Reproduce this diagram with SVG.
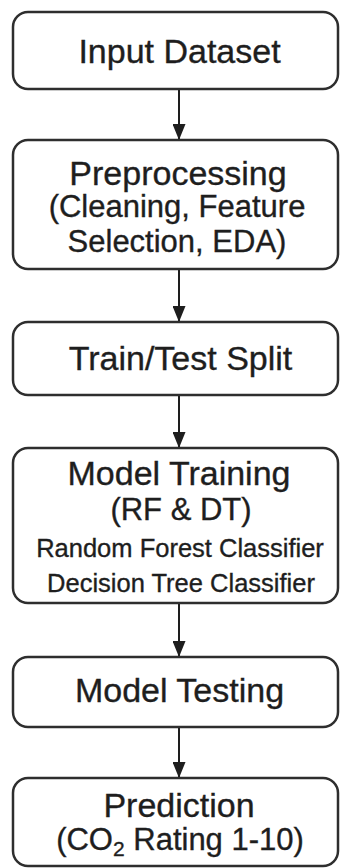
<svg xmlns="http://www.w3.org/2000/svg" width="340" height="868" viewBox="0 0 340 868">
  <style>
    .box { fill: #ffffff; stroke: #2e2e2e; stroke-width: 2.5; }
    .t { font-family: "Liberation Sans", Arial, Helvetica, sans-serif; fill: #1e1e1e; stroke: #1e1e1e; stroke-width: 0.35; text-anchor: middle; }
    .big { font-size: 34px; }
    .mid { font-size: 31px; }
    .small { font-size: 25.5px; }
    .link { stroke: #1e1e1e; stroke-width: 2; fill: none; marker-end: url(#arrow); }
  </style>
  <defs>
    <!-- solid triangular arrowhead, tip placed on the end of each connector -->
    <marker id="arrow" markerUnits="userSpaceOnUse" markerWidth="16" markerHeight="13" refX="16" refY="6.5" orient="auto" viewBox="0 0 16 13">
      <path d="M0,0 L16,6.5 L0,13 Z" fill="#1e1e1e"/>
    </marker>
  </defs>

  <rect width="340" height="868" fill="#ffffff"/>

  <g id="connectors">
    <line class="link" x1="179" y1="89" x2="179" y2="140"/>
    <line class="link" x1="179" y1="269" x2="179" y2="322"/>
    <line class="link" x1="179" y1="395" x2="179" y2="448"/>
    <line class="link" x1="179" y1="603" x2="179" y2="657"/>
    <line class="link" x1="179" y1="727" x2="179" y2="778"/>
  </g>

  <g id="input-dataset">
    <rect class="box" x="13" y="12" width="325" height="77" rx="15"/>
    <text class="t big" x="179.5" y="63">Input Dataset</text>
  </g>

  <g id="preprocessing">
    <rect class="box" x="13" y="140" width="325" height="129" rx="15"/>
    <text class="t big" x="178" y="185">Preprocessing</text>
    <text class="t mid" x="177" y="217">(Cleaning, Feature</text>
    <text class="t mid" x="177" y="252">Selection, EDA)</text>
  </g>

  <g id="train-test-split">
    <rect class="box" x="13" y="322" width="325" height="73" rx="15"/>
    <text class="t big" x="180.5" y="370">Train/Test Split</text>
  </g>

  <g id="model-training">
    <rect class="box" x="13" y="448" width="325" height="155" rx="15"/>
    <text class="t big" x="179" y="485">Model Training</text>
    <text class="t mid" x="181" y="520">(RF &amp; DT)</text>
    <text class="t small" x="180" y="557">Random Forest Classifier</text>
    <text class="t small" x="181" y="592">Decision Tree Classifier</text>
  </g>

  <g id="model-testing">
    <rect class="box" x="13" y="657" width="325" height="70" rx="15"/>
    <text class="t big" x="179.5" y="702">Model Testing</text>
  </g>

  <g id="prediction">
    <rect class="box" x="13" y="778" width="325" height="88" rx="15"/>
    <text class="t big" x="179" y="817">Prediction</text>
    <text class="t mid" x="180" y="850">(CO<tspan font-size="21px" dy="6">2</tspan><tspan dy="-6"> Rating 1-10)</tspan></text>
  </g>
</svg>
